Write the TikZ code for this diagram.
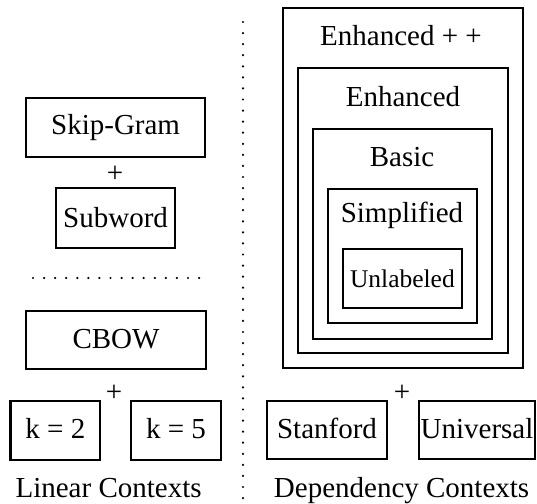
\documentclass[tikz,border=0pt]{standalone}
\usepackage{fontspec}
\setmainfont{Liberation Serif}
\begin{document}
\begin{tikzpicture}[scale=.4,
  box/.style={line width=1.6pt},
  dots/.style={line width=1.4pt, line cap=round, dash pattern=on 0pt off 6.3pt},
  txt/.style={font=\fontsize{16.5}{19}\selectfont, inner sep=0pt, anchor=base},
  small/.style={font=\fontsize{14.5}{17}\selectfont, inner sep=0pt, anchor=base},
  plus/.style={font=\fontsize{16.5}{19}\selectfont, inner sep=0pt}]
\useasboundingbox (0,0) rectangle (26.85,25.2);

% linear contexts
\draw[box] (1.3,20.3) rectangle (10.25,17.35);
\node[txt] (skipgram) at (5.78,18.45) {Skip-Gram};
\node[plus] (plusa) at (5.75,16.5) {+};
\draw[box] (2.8,15.8) rectangle (8.75,12.8);
\node[txt] (subword) at (5.78,13.8) {Subword};

\draw[dots] (1.65,11.3) -- (10.25,11.3);

\draw[box] (1.3,9.65) rectangle (10.3,6.75);
\node[txt] (cbow) at (5.8,7.75) {CBOW};
\node[plus] (plusb) at (5.7,5.55) {+};
\draw[box] (0.53,5.15) rectangle (5,2.2);
\draw[box] (6.55,5.15) rectangle (11.05,2.2);
\node[txt] (ktwo) at (2.77,3.25) {k = 2};
\node[txt] (kfive) at (8.8,3.25) {k = 5};
\node[txt] (linear) at (5.43,0.32) {Linear Contexts};

\draw[dots] (12.15,24.1) -- (12.15,0);

% dependency contexts
\draw[box] (14.15,24.8) rectangle (26.15,6.8);
\draw[box] (14.9,21.8) rectangle (25.4,7.55);
\draw[box] (15.65,18.75) rectangle (24.6,8.25);
\draw[box] (16.4,15.75) rectangle (23.85,9.05);
\draw[box] (17.15,12.75) rectangle (23.1,9.8);
\node[txt] (enhpp) at (20.05,22.9) {Enhanced + +};
\node[txt] (enh) at (20.15,19.85) {Enhanced};
\node[txt] (basic) at (20.1,16.85) {Basic};
\node[txt] (simpl) at (20.1,14.05) {Simplified};
\node[small] (unlab) at (20.12,10.8) {Unlabeled};

\node[plus] (plusc) at (20.1,5.55) {+};
\draw[box] (13.35,5.15) rectangle (19.35,2.25);
\draw[box] (20.95,5.15) rectangle (26.75,2.25);
\node[txt] (stanford) at (16.35,3.25) {Stanford};
\node[txt] (universal) at (23.85,3.25) {Universal};
\node[txt] (depend) at (20.08,0.32) {Dependency Contexts};
\end{tikzpicture}
\end{document}
